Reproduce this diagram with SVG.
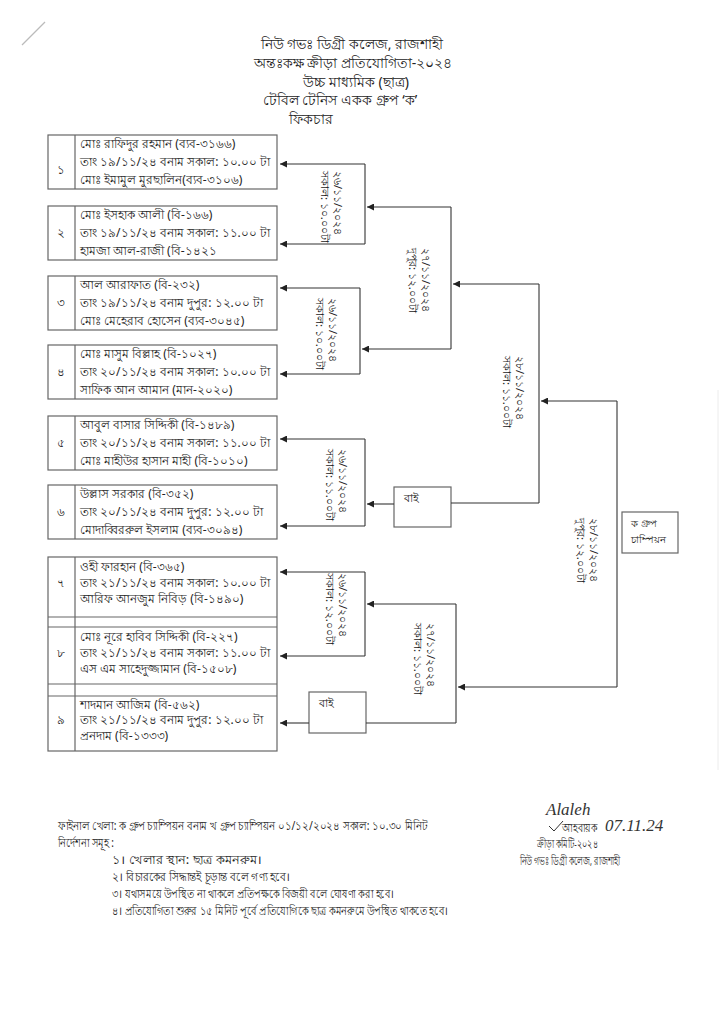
<svg xmlns="http://www.w3.org/2000/svg" width="724" height="1024" viewBox="0 0 724 1024" xml:space="preserve">
<defs>
<marker id="ah" viewBox="0 0 10 10" refX="10" refY="5" markerWidth="9" markerHeight="7" orient="auto" markerUnits="userSpaceOnUse"><path d="M0,0 L10,5 L0,10 z" fill="#222"/></marker>
<style>
.t{font-family:"Noto Sans","Liberation Sans","DejaVu Sans",sans-serif;fill:#222;}
.h{font-size:14px;text-anchor:middle;}
.b{font-size:12px;}
.n{font-size:12px;text-anchor:middle;}
.l{font-size:11px;}
.s{font-size:12px;}
.r{font-size:11.5px;}
.box{fill:#fff;stroke:#666;stroke-width:1.2;}
.ln{stroke:#666;stroke-width:1.2;fill:none;}
.c{stroke:#333;stroke-width:1.1;fill:none;}
.a{marker-end:url(#ah);}
</style>
</defs>
<rect width="724" height="1024" fill="#fff"/>
<line x1="22" y1="45" x2="45" y2="22" stroke="#bbb" stroke-width="1.2"/>
<line x1="718" y1="390" x2="718" y2="770" stroke="#ececec" stroke-width="1"/>
<g id="header" class="t h"><text x="352" y="49">নিউ গভঃ ডিগ্রী কলেজ, রাজশাহী</text><text x="353" y="68">অন্তঃকক্ষ ক্রীড়া প্রতিযোগিতা-২০২৪</text><text x="356" y="87">উচ্চ মাধ্যমিক (ছাত্র)</text><text x="340" y="105">টেবিল টেনিস একক গ্রুপ ‘ক’</text><text x="311" y="124">ফিকচার</text></g>
<g id="match1"><rect class="box" x="48" y="135" width="229" height="54"/><line class="ln" x1="75" y1="135" x2="75" y2="189"/><text class="t n" x="61" y="174">১</text><text class="t b" x="80" y="148">মোঃ রাফিদুর রহমান (ব্যব-৩১৬৬)</text><text class="t b" x="80" y="166"> তাং ১৯/১১/২৪  বনাম  সকাল: ১০.০০ টা</text><text class="t b" x="80" y="184">মোঃ ইমামুল মুরছালিন(ব্যব-৩১০৬)</text></g>
<g id="match2"><rect class="box" x="48" y="206" width="229" height="54"/><line class="ln" x1="75" y1="206" x2="75" y2="260"/><text class="t n" x="61" y="237">২</text><text class="t b" x="80" y="219">মোঃ ইসহাক আলী (বি-১৬৬)</text><text class="t b" x="80" y="237">তাং ১৯/১১/২৪  বনাম  সকাল: ১১.০০ টা</text><text class="t b" x="80" y="255">হামজা আল-রাজী (বি-১৪২১</text></g>
<g id="match3"><rect class="box" x="48" y="276" width="229" height="54"/><line class="ln" x1="75" y1="276" x2="75" y2="330"/><text class="t n" x="61" y="307">৩</text><text class="t b" x="80" y="289">আল আরাফাত (বি-২৩২)</text><text class="t b" x="80" y="307">তাং ১৯/১১/২৪  বনাম  দুপুর: ১২.০০ টা</text><text class="t b" x="80" y="325">মোঃ মেহেরাব হোসেন (ব্যব-৩০৪৫)</text></g>
<g id="match4"><rect class="box" x="48" y="345" width="229" height="54"/><line class="ln" x1="75" y1="345" x2="75" y2="399"/><text class="t n" x="61" y="376">৪</text><text class="t b" x="80" y="358">মোঃ মাসুম বিল্লাহ (বি-১০২৭)</text><text class="t b" x="80" y="376"> তাং ২০/১১/২৪  বনাম  সকাল: ১০.০০ টা</text><text class="t b" x="80" y="394">সাফিক আন আমান  (মান-২০২০)</text></g>
<g id="match5"><rect class="box" x="48" y="416" width="229" height="54"/><line class="ln" x1="75" y1="416" x2="75" y2="470"/><text class="t n" x="61" y="447">৫</text><text class="t b" x="80" y="429">আবুল বাসার সিদ্দিকী (বি-১৪৮৯)</text><text class="t b" x="80" y="447"> তাং ২০/১১/২৪  বনাম  সকাল: ১১.০০ টা</text><text class="t b" x="80" y="465">মোঃ মাহীউর হাসান মাহী (বি-১০১০)</text></g>
<g id="match6"><rect class="box" x="48" y="485" width="229" height="54"/><line class="ln" x1="75" y1="485" x2="75" y2="539"/><text class="t n" x="61" y="516">৬</text><text class="t b" x="80" y="498">উল্লাস সরকার  (বি-৩৫২)</text><text class="t b" x="80" y="516">তাং ২০/১১/২৪  বনাম  দুপুর: ১২.০০ টা</text><text class="t b" x="80" y="534">মোদাব্বিররুল ইসলাম (ব্যব-৩০৯৪)</text></g>
<g id="matches789"><rect class="box" x="48" y="557" width="229" height="194"/><line class="ln" x1="75" y1="557" x2="75" y2="751"/><line class="ln" x1="48" y1="617" x2="277" y2="617"/><line class="ln" x1="48" y1="627" x2="277" y2="627"/><line class="ln" x1="48" y1="684" x2="277" y2="684"/><line class="ln" x1="48" y1="696" x2="277" y2="696"/></g>
<g id="match7"><text class="t n" x="61" y="587">৭</text><text class="t b" x="80" y="571">ওহী ফারহান (বি-৩৬৫)</text><text class="t b" x="80" y="587">তাং ২১/১১/২৪  বনাম  সকাল: ১০.০০ টা</text><text class="t b" x="80" y="603">আরিফ আনজুম নিবিড় (বি-১৪৯০)</text></g>
<g id="match8"><text class="t n" x="61" y="657">৮</text><text class="t b" x="80" y="641">মোঃ নূরে হাবিব সিদ্দিকী (বি-২২৭)</text><text class="t b" x="80" y="657">তাং ২১/১১/২৪  বনাম  সকাল: ১১.০০ টা</text><text class="t b" x="80" y="673">এস এম  সাহেদুজ্জামান (বি-১৫০৮)</text></g>
<g id="match9"><text class="t n" x="61" y="724">৯</text><text class="t b" x="80" y="709">শাদমান আজিম (বি-৫৬২)</text><text class="t b" x="80" y="724">তাং ২১/১১/২৪  বনাম  দুপুর: ১২.০০ টা</text><text class="t b" x="80" y="740">প্রনদাম (বি-১৩৩৩)</text></g>
<g id="bye1"><rect class="box" x="394" y="487" width="57" height="40"/><text class="t l" x="404" y="502">বাই</text></g>
<g id="bye2"><rect class="box" x="309" y="692" width="57" height="41"/><text class="t l" x="319" y="707">বাই</text></g>
<g id="champion"><rect class="box" x="622" y="512" width="56" height="41"/><text class="t" font-size="10" x="631" y="527">ক গ্রুপ</text><text class="t" font-size="10" x="631" y="543">চাম্পিয়ন</text></g>
<g id="connectors">
<line class="c a" x1="365" y1="164" x2="280" y2="164"/><line class="c" x1="365" y1="164" x2="365" y2="244"/><line class="c a" x1="365" y1="244" x2="280" y2="244"/>
<line class="c a" x1="360" y1="288" x2="280" y2="288"/><line class="c" x1="360" y1="288" x2="360" y2="374"/><line class="c a" x1="360" y1="374" x2="280" y2="374"/>
<line class="c a" x1="365" y1="439" x2="280" y2="439"/><line class="c" x1="365" y1="439" x2="365" y2="526"/><line class="c a" x1="365" y1="526" x2="280" y2="526"/>
<line class="c a" x1="365" y1="572" x2="280" y2="572"/><line class="c" x1="365" y1="572" x2="365" y2="656"/><line class="c a" x1="365" y1="656" x2="280" y2="656"/>
<line class="c a" x1="309" y1="723" x2="280" y2="723"/>
<line class="c a" x1="451" y1="207" x2="367" y2="207"/><line class="c" x1="451" y1="207" x2="451" y2="349"/><line class="c a" x1="451" y1="349" x2="362" y2="349"/>
<line class="c a" x1="394" y1="504" x2="367" y2="504"/>
<line class="c a" x1="456" y1="604" x2="367" y2="604"/><line class="c" x1="456" y1="604" x2="456" y2="723"/><line class="c" x1="456" y1="723" x2="366" y2="723"/>
<line class="c a" x1="539" y1="284" x2="453" y2="284"/><line class="c" x1="539" y1="284" x2="539" y2="503"/><line class="c" x1="539" y1="503" x2="451" y2="503"/>
<line class="c a" x1="617" y1="401" x2="541" y2="401"/><line class="c" x1="617" y1="401" x2="617" y2="687"/><line class="c a" x1="617" y1="687" x2="458" y2="687"/>
</g>
<g id="labels" class="t l">
<text transform="translate(332,171) rotate(90)"><tspan x="0" y="-2">২৬/১১/২০২৪</tspan><tspan x="0" y="11">সকাল: ১০.০০টা</tspan></text>
<text transform="translate(420,248) rotate(90)"><tspan x="0" y="-2">২৭/১১/২০২৪</tspan><tspan x="0" y="11">দুপুর: ১২.০০টা</tspan></text>
<text transform="translate(327,298) rotate(90)"><tspan x="0" y="-2">২৬/১১/২০২৪</tspan><tspan x="0" y="11">সকাল: ১০.০০টা</tspan></text>
<text transform="translate(514,356) rotate(90)"><tspan x="0" y="-2">২৮/১১/২০২৪</tspan><tspan x="0" y="11">সকাল: ১১.০০টা</tspan></text>
<text transform="translate(337,449) rotate(90)"><tspan x="0" y="-2">২৬/১১/২০২৪</tspan><tspan x="0" y="11">সকাল: ১১.০০টা</tspan></text>
<text transform="translate(337,573) rotate(90)"><tspan x="0" y="-2">২৬/১১/২০২৪</tspan><tspan x="0" y="11">সকাল: ১২.০০টা</tspan></text>
<text transform="translate(425,623) rotate(90)"><tspan x="0" y="-2">২৭/১১/২০২৪</tspan><tspan x="0" y="11">সকাল: ১১.০০টা</tspan></text>
<text transform="translate(588,518) rotate(90)"><tspan x="0" y="-2">২৮/১১/২০২৪</tspan><tspan x="0" y="11">দুপুর: ১২.০০টা</tspan></text>
</g>
<g id="notes" class="t s">
<text x="58" y="830" textLength="370" lengthAdjust="spacingAndGlyphs">ফাইনাল খেলা: ক গ্রুপ চ্যাম্পিয়ন বনাম খ গ্রুপ চ্যাম্পিয়ন ০১/১২/২০২৪ সকাল: ১০.৩০ মিনিট</text>
<text x="58" y="847" textLength="56" lengthAdjust="spacingAndGlyphs">নির্দেশনা সমূহ :</text>
<text x="112" y="864" textLength="150" lengthAdjust="spacingAndGlyphs">১। খেলার স্থান: ছাত্র কমনরুম।</text>
<text x="112" y="881" textLength="178" lengthAdjust="spacingAndGlyphs">২। বিচারকের সিদ্ধান্তই চূড়ান্ত বলে গণ্য হবে।</text>
<text x="112" y="898" textLength="282" lengthAdjust="spacingAndGlyphs">৩। যথাসময়ে উপস্থিত না থাকলে প্রতিপক্ষকে বিজয়ী বলে ঘোষণা করা হবে।</text>
<text x="112" y="915" textLength="336" lengthAdjust="spacingAndGlyphs">৪। প্রতিযোগিতা শুরুর ১৫ মিনিট পূর্বে প্রতিযোগিকে ছাত্র কমনরুমে উপস্থিত থাকতে হবে।</text>
</g>
<g id="signature">
<text x="546" y="815" font-family="Liberation Serif, serif" font-style="italic" font-size="17" fill="#333">Alaleh</text>
<text x="605" y="831" font-family="Liberation Serif, serif" font-style="italic" font-size="17" fill="#333">07.11.24</text>
<path d="M549,826 L554,831 L563,821" stroke="#333" stroke-width="1" fill="none"/>
<text class="t r" x="562" y="832" textLength="35" lengthAdjust="spacingAndGlyphs">আহবায়ক</text>
<text class="t r" x="537" y="848" textLength="61" lengthAdjust="spacingAndGlyphs">ক্রীড়া কমিটি-২০২৪</text>
<text class="t r" x="520" y="865" textLength="100" lengthAdjust="spacingAndGlyphs">নিউ গভঃ ডিগ্রী কলেজ, রাজশাহী</text>
</g>
</svg>
